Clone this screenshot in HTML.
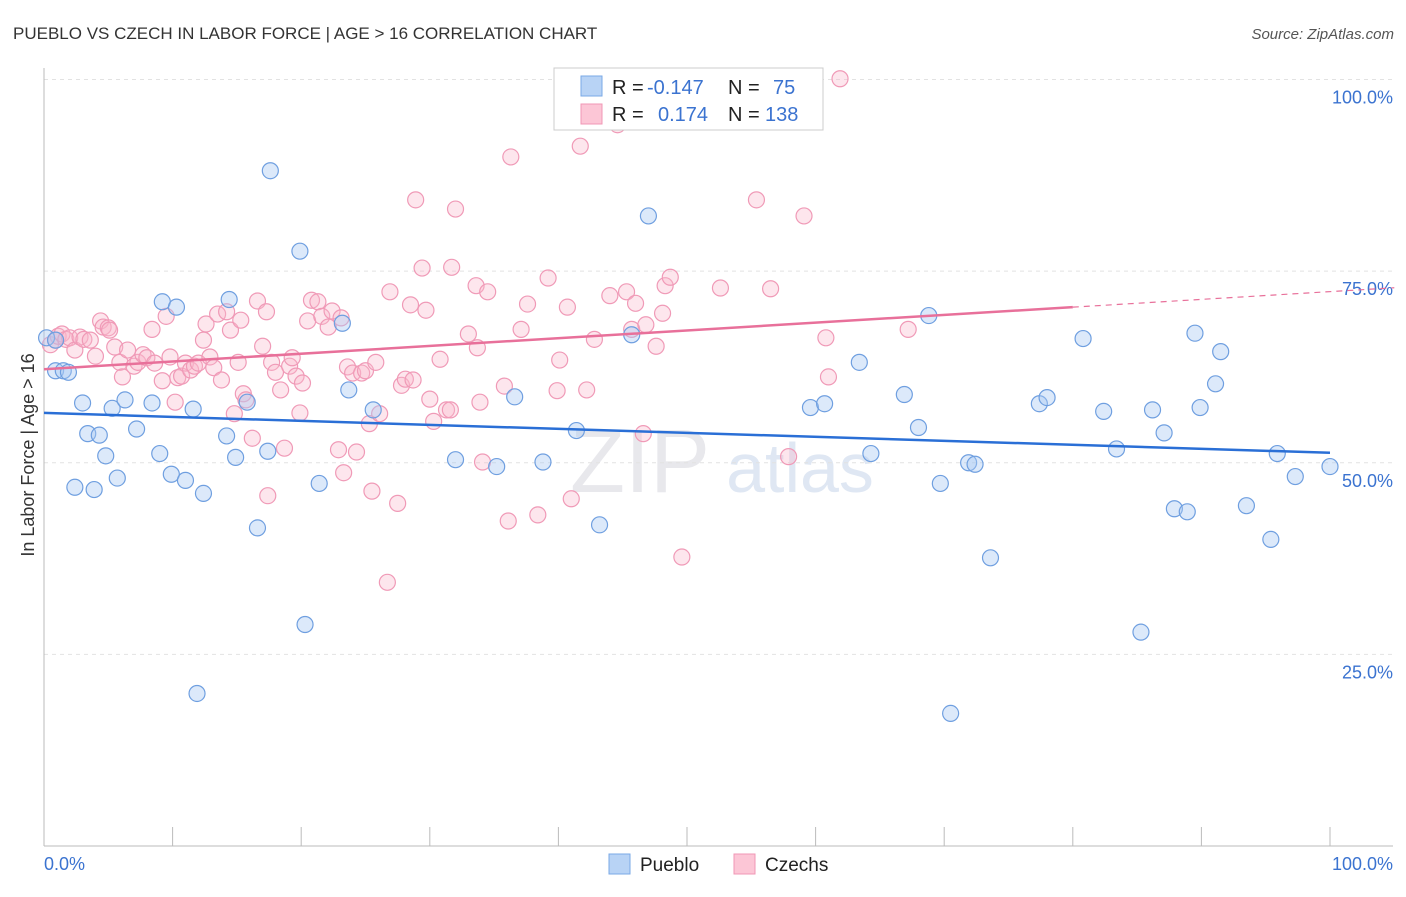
<!DOCTYPE html>
<html><head><meta charset="utf-8"><style>
body{margin:0;background:#fff;font-family:"Liberation Sans",sans-serif;}
svg text{font-family:"Liberation Sans",sans-serif;}
</style></head><body>
<svg id="chart" width="1406" height="892">
<text x="13" y="39" font-size="17" fill="#333">PUEBLO VS CZECH IN LABOR FORCE | AGE &gt; 16 CORRELATION CHART</text>
<text x="1394" y="39" font-size="15" fill="#555" font-style="italic" text-anchor="end">Source: ZipAtlas.com</text>
<text x="640" y="492" font-size="90" fill="#e8e8ec" font-family="Liberation Serif" text-anchor="middle">ZIP</text>
<text x="800" y="492" font-size="70" fill="#dfe7f3" text-anchor="middle">atlas</text>
<g id="grid"></g>
<g id="axes"></g>
<g id="marks"></g>
<text transform="translate(34,455) rotate(-90)" font-size="18" fill="#333" text-anchor="middle">In Labor Force | Age &gt; 16</text>
<g>
<rect x="554" y="68" width="269" height="62" fill="#fff" stroke="#ccc"/>
<rect x="581" y="76" width="21" height="20" fill="#b8d3f5" stroke="#7aa8e6"/>
<rect x="581" y="104" width="21" height="20" fill="#fcc6d6" stroke="#f097b5"/>
<text x="612" y="94" font-size="20" fill="#222">R = </text><text x="647" y="94" font-size="20" fill="#3b73d0">-0.147</text>
<text x="728" y="94" font-size="20" fill="#222">N = </text><text x="773" y="94" font-size="20" fill="#3b73d0">75</text>
<text x="612" y="121" font-size="20" fill="#222">R = </text><text x="658" y="121" font-size="20" fill="#3b73d0">0.174</text>
<text x="728" y="121" font-size="20" fill="#222">N = </text><text x="765" y="121" font-size="20" fill="#3b73d0">138</text>
</g>
<g>
<rect x="609" y="854" width="21" height="20" fill="#b8d3f5" stroke="#7aa8e6"/>
<text x="640" y="871" font-size="19" fill="#222">Pueblo</text>
<rect x="734" y="854" width="21" height="20" fill="#fcc6d6" stroke="#f097b5"/>
<text x="765" y="871" font-size="19" fill="#222">Czechs</text>
</g>
</svg>
<script>
const yTicks=[25,50,75,100];
const yTickLabels=["25.0%","50.0%","75.0%","100.0%"];
const xTickLabels=["0.0%","100.0%"];
const puebloX=[0.2,0.9,1.5,1.9,3.0,2.4,3.4,3.9,4.3,4.8,5.3,5.7,6.3,7.2,8.4,9.0,9.2,9.9,10.3,11.0,11.6,12.4,11.9,14.2,14.4,14.9,15.8,16.6,17.4,17.6,19.9,20.3,21.4,23.2,23.7,25.6,32.0,35.2,36.6,38.8,41.4,43.2,45.7,47.0,59.6,60.7,63.4,64.3,66.9,68.0,68.8,69.7,70.5,71.9,72.4,73.6,77.4,78.0,80.8,82.4,83.4,85.3,86.2,87.1,87.9,88.9,89.5,89.9,91.1,91.5,93.5,95.4,95.9,97.3,100.0,0.9];
const puebloY=[66.3,62.0,62.0,61.8,57.8,46.8,53.8,46.5,53.6,50.9,57.1,48.0,58.2,54.4,57.8,51.2,71.0,48.5,70.3,47.7,57.0,46.0,19.9,53.5,71.3,50.7,57.9,41.5,51.5,88.1,77.6,28.9,47.3,68.2,59.5,56.9,50.4,49.5,58.6,50.1,54.2,41.9,66.7,82.2,57.2,57.7,63.1,51.2,58.9,54.6,69.2,47.3,17.3,50.0,49.8,37.6,57.7,58.5,66.2,56.7,51.8,27.9,56.9,53.9,44.0,43.6,66.9,57.2,60.3,64.5,44.4,40.0,51.2,48.2,49.5,66.0];
const czechX=[0.5,0.9,1.1,1.4,1.7,2.0,2.4,2.8,3.1,3.6,
4.0,4.4,4.6,5.0,5.1,5.5,5.9,6.1,6.5,7.0,
7.3,7.7,8.0,8.4,8.6,9.2,9.5,9.8,10.2,10.4,
10.7,11.0,11.4,11.7,12.0,12.4,12.6,12.9,13.2,13.5,
13.8,14.2,14.5,14.8,15.1,15.3,15.5,15.7,16.2,16.6,
17.0,17.3,17.4,17.7,18.0,18.4,18.7,19.1,19.3,19.6,
19.9,20.1,20.5,20.8,21.3,21.6,22.1,22.4,22.9,23.1,
23.3,23.6,24.0,24.3,24.7,25.0,25.3,25.5,25.8,26.1,
26.7,26.9,27.5,27.8,28.1,28.5,28.7,28.9,29.4,29.7,
30.0,30.3,30.8,31.3,31.6,32.0,31.7,33.0,33.6,33.7,
33.9,34.1,34.5,35.8,36.1,36.3,37.1,37.6,38.4,39.2,
39.9,40.1,40.7,41.0,41.7,42.2,42.8,44.0,44.6,45.3,
45.7,46.0,46.6,46.8,47.6,48.1,48.3,48.7,49.6,52.6,
55.4,56.5,57.9,59.1,60.8,61.0,61.9,67.2];
const czechY=[65.4,66.0,66.5,66.8,66.1,66.3,64.7,66.4,66.1,66.0,
63.9,68.5,67.7,67.6,67.3,65.1,63.1,61.2,64.7,62.6,
63.1,64.1,63.7,67.4,63.0,60.7,69.1,63.8,57.9,61.1,
61.3,63.0,62.1,62.6,63.0,66.0,68.1,63.8,62.4,69.4,
60.8,69.7,67.3,56.4,63.1,68.6,59.0,58.2,53.2,71.1,
65.2,69.7,45.7,63.1,61.8,59.5,51.9,62.6,63.7,61.3,
56.5,60.4,68.5,71.2,71.0,69.1,67.7,69.8,51.7,68.9,
48.7,62.5,61.7,51.4,61.7,62.0,55.1,46.3,63.1,56.4,
34.4,72.3,44.7,60.1,60.9,70.6,60.8,84.3,75.4,69.9,
58.3,55.4,63.5,56.9,56.9,83.1,75.5,66.8,73.1,65.0,
57.9,50.1,72.3,60.0,42.4,89.9,67.4,70.7,43.2,74.1,
59.4,63.4,70.3,45.3,91.3,59.5,66.1,71.8,94.1,72.3,
67.4,70.8,53.8,68.0,65.2,69.5,73.1,74.2,37.7,72.8,
84.3,72.7,50.8,82.2,66.3,61.2,100.1,67.4];
const puebloTrend=[56.5,51.3];   // value at x=0, x=100
const czechTrend=[62.2,70.3];    // value at x=0, x=80
const X0=44,X1=1330,YB=846,YT=79.5;
const xs=v=>X0+(X1-X0)*v/100, ys=v=>YB-(YB-YT)*v/100;
const NS="http://www.w3.org/2000/svg";
function mk(tag,attrs,parent){const e=document.createElementNS(NS,tag);for(const k in attrs)e.setAttribute(k,attrs[k]);parent.appendChild(e);return e;}
const grid=document.getElementById('grid'),axes=document.getElementById('axes'),marks=document.getElementById('marks');
yTicks.forEach((t,i)=>{
 const l=mk('line',{x1:X0,x2:1393,y1:ys(t),y2:ys(t),stroke:'#e2e2e2','stroke-dasharray':'4,4'},grid);
 
 
 const tx=mk('text',{x:1393,y:ys(t)+24,'font-size':18,fill:'#3b73d0','text-anchor':'end'},axes);
 tx.textContent=yTickLabels[i];
 
 
});
let ax=mk('line',{x1:X0,x2:X0,y1:68,y2:YB,stroke:'#bbb'},axes);


ax=mk('line',{x1:X0,x2:1393,y1:YB,y2:YB,stroke:'#bbb'},axes);


for(let i=0;i<=10;i++){const t=mk('line',{x1:xs(i*10),x2:xs(i*10),y1:827,y2:YB,stroke:'#bbb'},axes);
 
 }
[[0,'start',44],[1,'end',1393]].forEach(([i,a,x])=>{const t=mk('text',{x:x,y:870,'font-size':18,fill:'#3b73d0','text-anchor':a},axes);t.textContent=xTickLabels[i];
 
 });
czechX.forEach((v,i)=>{const c=mk('circle',{cx:xs(v),cy:ys(czechY[i]),r:8,fill:'rgba(249,182,203,0.35)',stroke:'#f09ab7','stroke-width':1.2},marks);
 
 });
puebloX.forEach((v,i)=>{const c=mk('circle',{cx:xs(v),cy:ys(puebloY[i]),r:8,fill:'rgba(168,199,242,0.4)',stroke:'#6f9fe0','stroke-width':1.2},marks);
 
 });
const cSlope=(czechTrend[1]-czechTrend[0])/80;
let ln=mk('line',{x1:xs(0),y1:ys(puebloTrend[0]),x2:xs(100),y2:ys(puebloTrend[1]),stroke:'#2a6fd6','stroke-width':2.5},marks);


ln=mk('line',{x1:xs(0),y1:ys(czechTrend[0]),x2:xs(80),y2:ys(czechTrend[1]),stroke:'#e8709a','stroke-width':2.5},marks);


ln=mk('line',{x1:xs(80),y1:ys(czechTrend[1]),x2:xs(105),y2:ys(czechTrend[0]+cSlope*105),stroke:'#e8709a','stroke-width':1.2,'stroke-dasharray':'6,5'},marks);


</script>
</body></html>
